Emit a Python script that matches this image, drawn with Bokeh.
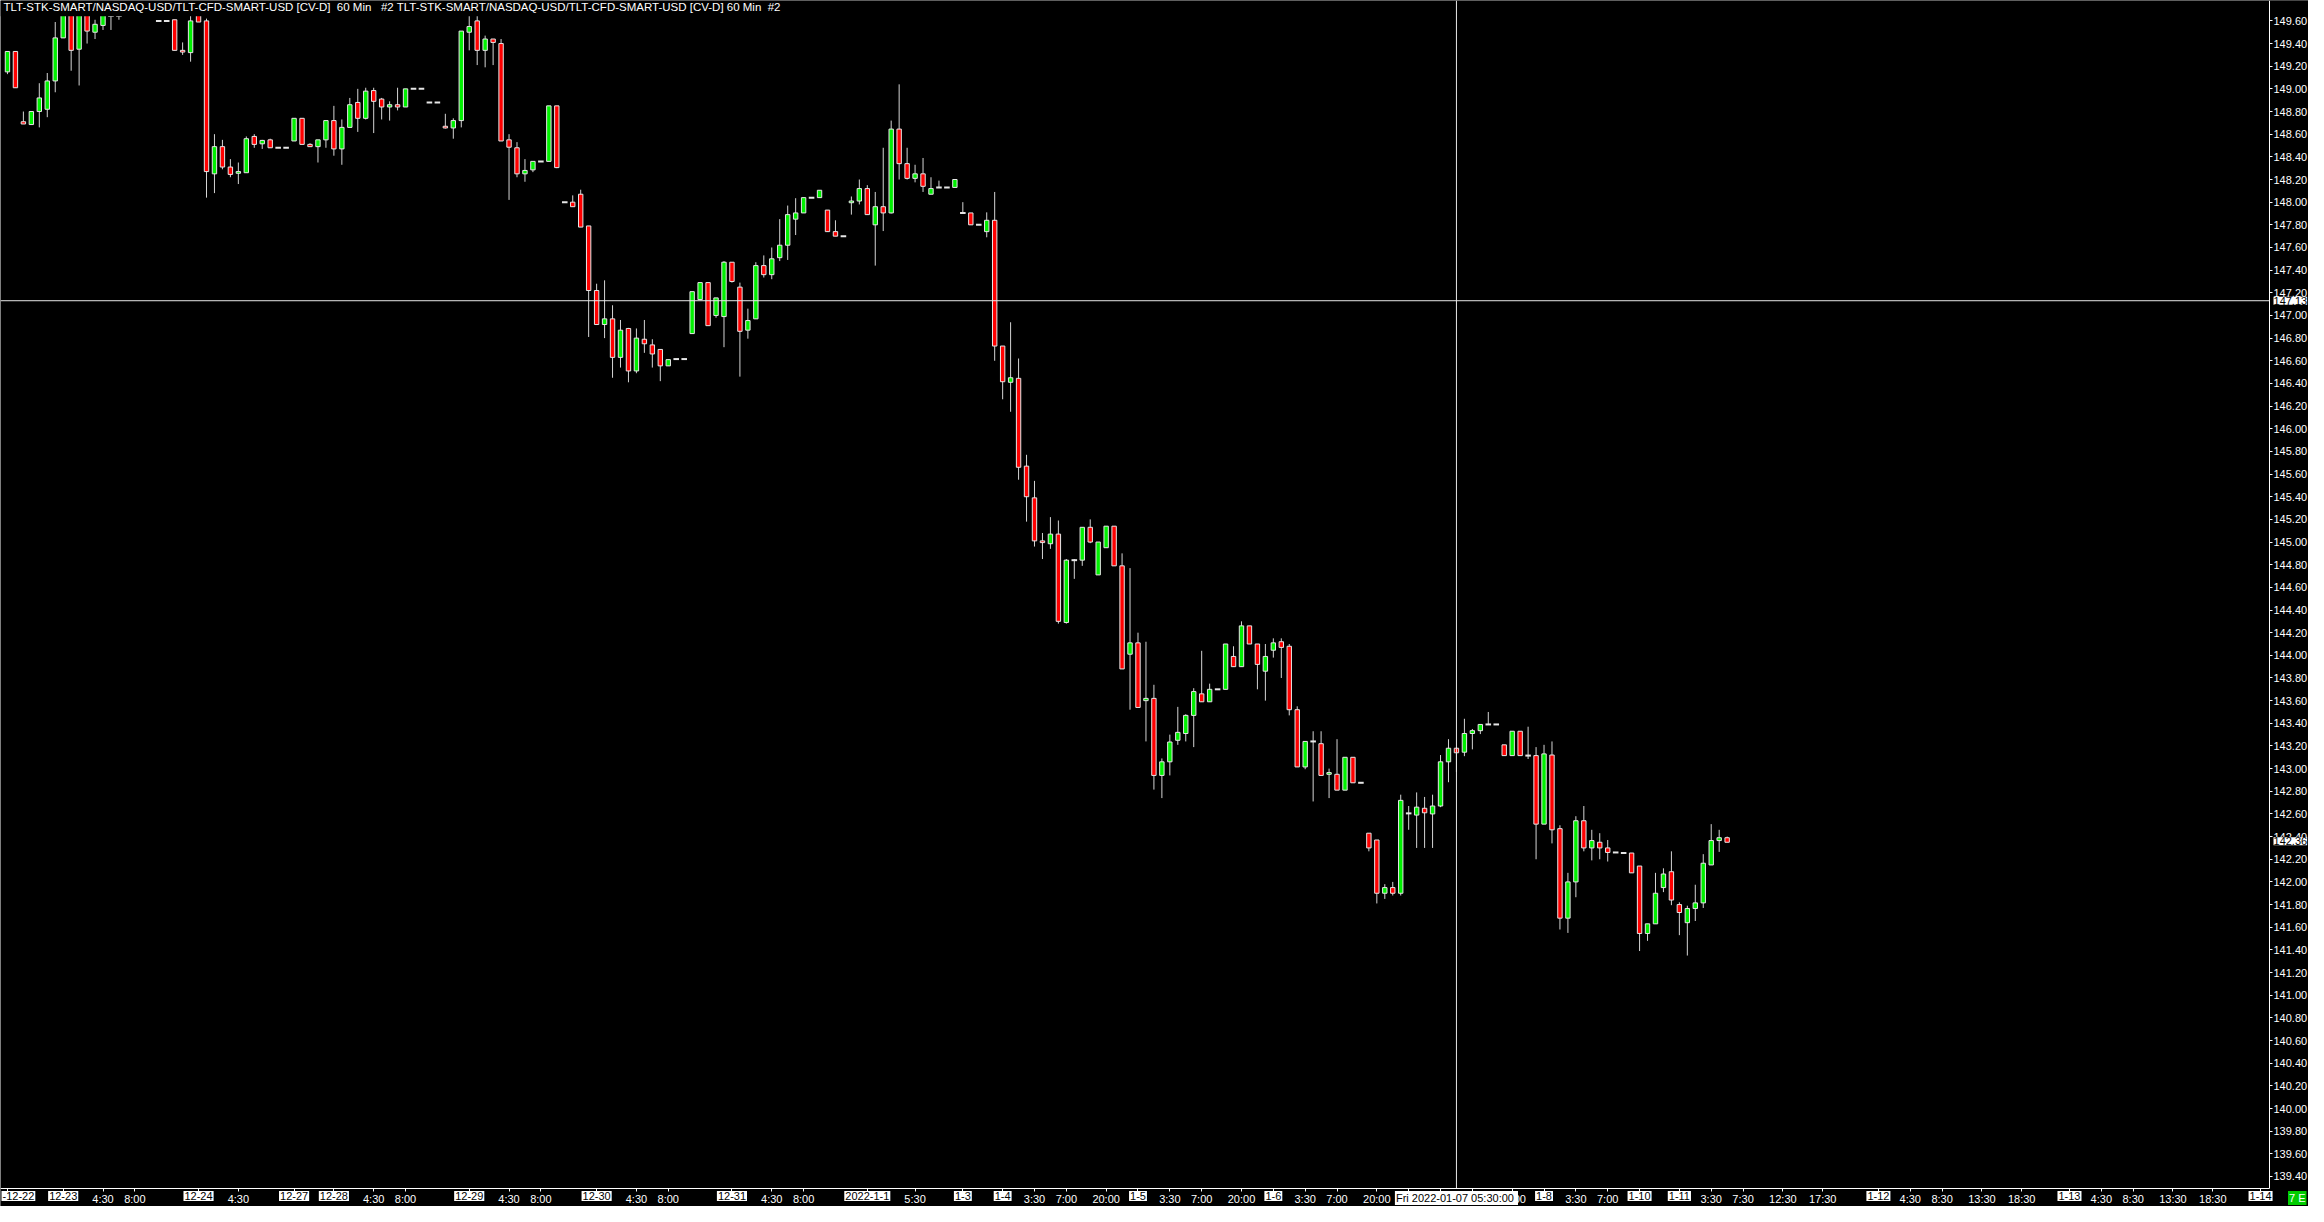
from bokeh.plotting import figure
from bokeh.models import (Range1d, FixedTicker, Span, Label, NumeralTickFormatter, ColumnDataSource,
                          LinearAxis, BoxAnnotation)
from bokeh.embed import file_html
from bokeh.resources import INLINE

# ---------------- data (60-min bars, index = bar slot) ----------------
bar_index = [0, 1, 2, 3, 4, 5, 6, 7, 8, 9, 10, 11, 12, 13, 14,
             19, 20, 21, 22, 23, 24, 25, 26, 27, 28, 29, 30, 31, 32, 33, 34, 35, 36, 37, 38, 39,
             40, 41, 42, 43, 44, 45, 46, 47, 48, 49, 50, 51, 52, 53, 54, 55, 56, 57, 58, 59,
             60, 61, 62, 63, 64, 65, 66, 67, 68, 69, 70, 71, 72, 73, 74, 75, 76, 77, 78, 79,
             80, 81, 82, 83, 84, 85, 86, 87, 88, 89, 90, 91, 92, 93, 94, 95, 96, 97, 98, 99,
             100, 101, 102, 103, 104, 105, 106, 107, 108, 109, 110, 111, 112, 113, 114, 115, 116, 117, 118, 119,
             120, 121, 122, 123, 124, 125, 126, 127, 128, 129, 130, 131, 132, 133, 134, 135, 136, 137, 138, 139,
             140, 141, 142, 143, 144, 145, 146, 147, 148, 149, 150, 151, 152, 153, 154, 155, 156, 157, 158, 159,
             160, 161, 162, 163, 164, 165, 166, 167, 168, 169, 170, 171, 172, 173, 174, 175, 176, 177, 178, 179,
             180, 181, 182, 183, 184, 185, 186, 187, 188, 189, 190, 191, 192, 193, 194, 195, 196, 197, 198, 199,
             200, 201, 202, 203, 204, 205, 206, 207, 208, 209, 210, 211, 212, 213, 214, 215, 216]

open_prices = [149.15, 149.33, 148.71, 148.685, 148.80, 148.82, 149.07, 149.45, 149.72, 149.35, 149.70, 149.50, 149.56, 149.645, 149.645,
               149.60, 149.60, 149.61, 149.34, 149.32, 149.68, 149.60, 148.25, 148.49, 148.31, 148.255, 148.26, 148.58, 148.515, 148.55, 148.48, 148.48, 148.54, 148.74, 148.51, 148.49,
               148.55, 148.72, 148.47, 148.66, 148.88, 148.74, 148.985, 148.91, 148.84, 148.86, 148.84, 149.00, 149.00, 148.88, 148.88, 148.67, 148.655, 148.72, 149.50, 149.60,
               149.34, 149.44, 149.40, 148.55, 148.48, 148.25, 148.285, 148.36, 148.36, 148.85, 148.00, 148.00, 148.07, 147.79, 147.22, 146.92, 146.97, 146.63, 146.885, 146.51,
               146.79, 146.74, 146.70, 146.555, 146.615, 146.615, 146.84, 147.14, 147.29, 147.00, 146.99, 147.47, 147.25, 146.87, 146.97, 147.44, 147.36, 147.51, 147.62, 147.85,
               147.905, 148.04, 148.04, 147.93, 147.74, 147.70, 147.995, 148.01, 148.12, 147.80, 147.96, 147.905, 148.645, 148.34, 148.21, 148.25, 148.07, 148.13, 148.13, 148.13,
               147.905, 147.905, 147.80, 147.74, 147.84, 146.73, 146.41, 146.445, 145.67, 145.39, 145.01, 144.985, 145.07, 144.29, 144.84, 144.84, 145.13, 144.71, 144.95, 145.14,
               144.79, 144.01, 144.11, 143.60, 143.62, 142.94, 143.06, 143.25, 143.31, 143.47, 143.66, 143.59, 143.70, 143.70, 143.99, 143.90, 144.26, 144.10, 143.86, 144.045,
               144.12, 144.08, 143.52, 143.015, 143.24, 143.22, 142.95, 142.95, 142.81, 143.10, 142.875, 142.43, 142.37, 141.90, 141.95, 141.90, 142.605, 142.59, 142.65, 142.60,
               142.67, 143.06, 143.18, 143.145, 143.31, 143.335, 143.39, 143.39, 143.21, 143.115, 143.33, 143.115, 143.115, 142.51, 143.12, 142.47, 141.68, 142.00, 142.54, 142.30,
               142.35, 142.30, 142.26, 142.255, 142.255, 142.14, 141.545, 141.63, 141.95, 142.09, 141.80, 141.64, 141.765, 141.815, 142.15, 142.365, 142.39]

high_prices = [149.33, 149.33, 148.80, 148.80, 149.05, 149.14, 149.59, 149.75, 149.75, 149.75, 149.72, 149.61, 149.67, 149.66, 149.66,
               149.60, 149.60, 149.61, 149.41, 149.66, 149.70, 149.62, 148.60, 148.55, 148.38, 148.35, 148.58, 148.60, 148.55, 148.56, 148.48, 148.48, 148.74, 148.74, 148.52, 148.55,
               148.72, 148.85, 148.73, 148.92, 149.00, 149.01, 149.01, 148.92, 148.89, 149.01, 149.00, 149.00, 149.00, 148.88, 148.88, 148.78, 148.74, 149.51, 149.65, 149.65,
               149.47, 149.44, 149.44, 148.60, 148.53, 148.38, 148.36, 148.36, 148.85, 148.85, 148.00, 148.06, 148.11, 147.79, 147.28, 147.31, 147.09, 146.96, 146.89, 146.885,
               146.96, 146.79, 146.70, 146.61, 146.615, 146.615, 147.21, 147.29, 147.29, 147.155, 147.48, 147.47, 147.29, 147.06, 147.47, 147.53, 147.60, 147.85, 147.97, 148.035,
               148.04, 148.04, 148.105, 147.93, 147.84, 147.70, 148.05, 148.20, 148.15, 148.09, 148.48, 148.72, 149.04, 148.48, 148.33, 148.39, 148.22, 148.19, 148.13, 148.20,
               148.00, 147.905, 147.80, 147.91, 148.09, 146.73, 146.94, 146.62, 145.77, 145.54, 145.08, 145.22, 145.19, 144.85, 144.85, 145.13, 145.20, 145.00, 145.14, 145.14,
               144.90, 144.77, 144.20, 144.12, 143.74, 143.09, 143.30, 143.545, 143.48, 143.71, 144.04, 143.75, 143.70, 144.10, 144.08, 144.30, 144.26, 144.10, 144.10, 144.15,
               144.15, 144.10, 143.55, 143.24, 143.33, 143.33, 143.00, 143.26, 143.10, 143.10, 142.875, 142.43, 142.37, 141.98, 142.00, 142.77, 142.67, 142.79, 142.75, 142.77,
               143.12, 143.26, 143.19, 143.44, 143.35, 143.39, 143.50, 143.39, 143.21, 143.33, 143.33, 143.37, 143.19, 143.21, 143.24, 142.50, 142.08, 142.58, 142.67, 142.46,
               142.43, 142.37, 142.26, 142.255, 142.255, 142.14, 141.63, 142.08, 142.12, 142.27, 141.82, 141.79, 141.975, 142.245, 142.51, 142.46, 142.40]

low_prices = [149.13, 149.01, 148.69, 148.685, 148.66, 148.75, 148.97, 149.45, 149.16, 149.03, 149.40, 149.44, 149.52, 149.52, 149.61,
              149.60, 149.60, 149.34, 149.30, 149.24, 149.59, 148.04, 148.08, 148.29, 148.22, 148.16, 148.26, 148.48, 148.47, 148.48, 148.48, 148.48, 148.54, 148.51, 148.49, 148.35,
              148.48, 148.41, 148.33, 148.66, 148.62, 148.73, 148.61, 148.73, 148.72, 148.81, 148.84, 149.00, 149.00, 148.88, 148.88, 148.65, 148.56, 148.66, 149.34, 149.21,
              149.19, 149.21, 148.54, 148.02, 148.22, 148.18, 148.265, 148.36, 148.36, 148.30, 148.00, 147.96, 147.78, 146.81, 146.92, 146.80, 146.45, 146.54, 146.41, 146.49,
              146.67, 146.54, 146.42, 146.555, 146.615, 146.615, 146.84, 147.14, 146.91, 146.98, 146.72, 147.29, 146.46, 146.795, 146.97, 147.335, 147.32, 147.48, 147.49, 147.71,
              147.905, 148.04, 148.04, 147.74, 147.70, 147.70, 147.89, 147.98, 147.89, 147.44, 147.745, 147.90, 148.20, 148.20, 148.175, 148.09, 148.07, 148.13, 148.13, 148.13,
              147.905, 147.80, 147.80, 147.69, 146.60, 146.26, 146.15, 145.55, 145.18, 144.96, 144.85, 144.94, 144.28, 144.28, 144.675, 144.79, 144.99, 144.71, 144.95, 144.79,
              143.88, 143.52, 143.54, 143.24, 142.815, 142.74, 142.94, 143.21, 143.24, 143.19, 143.59, 143.59, 143.70, 143.70, 143.90, 143.90, 144.10, 143.70, 143.60, 143.98,
              143.80, 143.47, 143.015, 142.995, 142.71, 142.94, 142.74, 142.81, 142.81, 142.875, 142.875, 142.27, 141.81, 141.85, 141.88, 141.88, 142.46, 142.30, 142.30, 142.30,
              142.66, 142.88, 142.97, 143.11, 143.17, 143.305, 143.39, 143.39, 143.115, 143.115, 143.115, 143.085, 142.20, 142.51, 142.34, 141.58, 141.55, 141.865, 142.27, 142.19,
              142.20, 142.18, 142.26, 142.255, 142.08, 141.39, 141.48, 141.63, 141.91, 141.795, 141.53, 141.35, 141.655, 141.77, 142.15, 142.265, 142.35]

close_prices = [149.33, 149.01, 148.69, 148.80, 148.92, 149.07, 149.45, 149.70, 149.34, 149.70, 149.51, 149.57, 149.65, 149.645, 149.645,
                149.60, 149.60, 149.34, 149.325, 149.60, 149.59, 148.27, 148.49, 148.31, 148.245, 148.27, 148.56, 148.51, 148.545, 148.48, 148.48, 148.48, 148.74, 148.51, 148.49, 148.55,
                148.72, 148.47, 148.66, 148.86, 148.74, 148.98, 148.89, 148.84, 148.86, 148.84, 149.00, 149.00, 149.00, 148.88, 148.88, 148.655, 148.72, 149.51, 149.55, 149.34,
                149.44, 149.41, 148.54, 148.485, 148.25, 148.28, 148.36, 148.36, 148.85, 148.305, 148.00, 147.96, 147.78, 147.22, 146.92, 146.97, 146.63, 146.87, 146.51, 146.80,
                146.75, 146.66, 146.555, 146.61, 146.615, 146.615, 147.21, 147.29, 146.91, 147.155, 147.47, 147.30, 146.86, 146.955, 147.44, 147.36, 147.50, 147.62, 147.89, 147.905,
                148.04, 148.04, 148.105, 147.74, 147.70, 147.70, 148.01, 148.12, 147.89, 147.96, 147.905, 148.645, 148.34, 148.21, 148.25, 148.14, 148.12, 148.13, 148.13, 148.20,
                147.905, 147.80, 147.80, 147.84, 146.73, 146.415, 146.45, 145.66, 145.40, 145.01, 144.995, 145.07, 144.30, 144.84, 144.84, 145.13, 145.00, 145.00, 145.14, 144.79,
                143.88, 144.11, 143.54, 143.62, 142.94, 143.06, 143.235, 143.32, 143.47, 143.68, 143.59, 143.70, 143.70, 144.10, 143.90, 144.26, 144.10, 143.92, 143.99, 144.11,
                144.07, 143.52, 143.015, 143.24, 143.24, 142.94, 142.965, 142.81, 143.10, 142.875, 142.875, 142.30, 141.90, 141.95, 141.90, 142.72, 142.605, 142.66, 142.61, 142.67,
                143.06, 143.18, 143.14, 143.31, 143.335, 143.39, 143.39, 143.39, 143.115, 143.33, 143.115, 143.115, 142.51, 143.13, 142.46, 141.68, 142.00, 142.54, 142.30, 142.365,
                142.30, 142.26, 142.26, 142.255, 142.08, 141.545, 141.63, 141.90, 142.07, 141.84, 141.73, 141.765, 141.815, 142.165, 142.365, 142.39, 142.35]

# time axis (bar slot -> label); date labels are highlighted
time_tick_pos = [12, 16, 29, 46, 50, 63, 67, 79, 83, 96, 100, 114, 129, 133, 138, 146, 150, 155,
                 163, 167, 172, 180, 184, 189, 197, 201, 214, 218, 223, 228, 239, 243, 248, 253,
                 263, 267, 272, 277]
time_tick_labels = ["4:30", "8:00", "4:30", "4:30", "8:00", "4:30", "8:00", "4:30", "8:00", "4:30", "8:00",
                    "5:30", "3:30", "7:00", "20:00", "3:30", "7:00", "20:00", "3:30", "7:00", "20:00",
                    "3:30", "7:00", "20:00", "3:30", "7:00", "3:30", "7:30", "12:30", "17:30",
                    "4:30", "8:30", "13:30", "18:30", "4:30", "8:30", "13:30", "18:30"]
date_tick_pos = [0, 7, 24, 36, 41, 58, 74, 91, 108, 120, 125, 142, 159, 176, 193, 205, 210, 235, 259, 283]
date_tick_labels = ["-12-22", "12-23", "12-24", "12-27", "12-28", "12-29", "12-30", "12-31", "2022-1-1",
                    "1-3", "1-4", "1-5", "1-6", "1-7", "1-8", "1-10", "1-11", "1-12", "1-13", "1-14"]

price_ticks = [round(139.4 + 0.2 * k, 2) for k in range(52)]

crosshair_bar = 182
crosshair_price = 147.13
crosshair_time = "Fri 2022-01-07  05:30:00"
last_price = 142.36
status_text = "7 E"

title_text = ("TLT-STK-SMART/NASDAQ-USD/TLT-CFD-SMART-USD [CV-D]\u00a0\u00a060 Min\u00a0\u00a0\u00a0"
              "#2 TLT-STK-SMART/NASDAQ-USD/TLT-CFD-SMART-USD [CV-D] 60 Min\u00a0\u00a0#2")

# ---------------- layout constants ----------------
FONT = "Liberation Sans"
W, H = 2308, 1206
X0, X1 = -0.875, 289.022        # whole canvas width in bar slots
Y0, Y1 = 139.135, 149.78         # whole canvas height in price
PX = W / (X1 - X0)               # pixels per bar slot
PY = H / (Y1 - Y0)               # pixels per price unit
AXIS_X = 284.125                 # price-axis line (bar slots)
AXIS_Y = 139.292                 # time-axis line (price)
TOP_BAND = 149.641               # bottom of title band
LAB_Y = Y1 - 1190.5 / PY         # top of highlighted time labels

p = figure(width=W, height=H, output_backend="svg", toolbar_location=None,
           x_range=Range1d(X0, X1), y_range=Range1d(Y0, Y1),
           x_axis_location=None, y_axis_location=None,
           background_fill_color="black", border_fill_color="black",
           min_border_left=0, min_border_right=0, min_border_top=0, min_border_bottom=0,
           outline_line_color=None)
p.grid.visible = False

up_col, dn_col = "#00f000", "#ff0000"
rows = dict(x=[], top=[], bottom=[], hi=[], lo=[], color=[])
flat = dict(x=[], y=[])
for i, o, h, l, c in zip(bar_index, open_prices, high_prices, low_prices, close_prices):
    rows["x"].append(i); rows["hi"].append(h); rows["lo"].append(l)
    rows["top"].append(max(o, c)); rows["bottom"].append(min(o, c))
    rows["color"].append(up_col if c > o else dn_col)
    if abs(c - o) < 1e-9:
        flat["x"].append(i); flat["y"].append(c)

src = ColumnDataSource(rows)
keep = [t - b > 1e-9 for t, b in zip(rows["top"], rows["bottom"])]
body_src = ColumnDataSource({k: [v for v, ok in zip(rows[k], keep) if ok] for k in rows})
p.segment(x0="x", y0="hi", x1="x", y1="lo", source=src, line_color="#d4d4d4", line_width=1)
p.vbar(x="x", width=0.55, top="top", bottom="bottom", source=body_src,
       fill_color="color", line_color="#e6e6e6", line_width=1)
p.rect(x="x", y="y", width=0.7, height=2, height_units="screen", source=ColumnDataSource(flat),
       fill_color="#e6e6e6", line_color=None)

# title band hides what is above the plotting area
p.add_layout(BoxAnnotation(bottom=TOP_BAND, fill_color="black", fill_alpha=1, line_color=None, level="glyph"))
# crosshair
p.add_layout(Span(location=crosshair_bar, dimension="height", line_color="#e8e8e8", line_width=1, level="glyph"))
p.add_layout(Span(location=crosshair_price, dimension="width", line_color="#e8e8e8", line_width=1, level="glyph"))
# axis strips
p.add_layout(BoxAnnotation(top=AXIS_Y, fill_color="black", fill_alpha=1, line_color=None, level="glyph"))
p.add_layout(BoxAnnotation(left=AXIS_X, fill_color="black", fill_alpha=1, line_color=None, level="glyph"))

# price axis (right)
ya = LinearAxis(fixed_location=AXIS_X, bounds=(AXIS_Y, Y1))
ya.ticker = FixedTicker(ticks=price_ticks)
ya.formatter = NumeralTickFormatter(format="0.00")
ya.axis_line_color = "white"
ya.major_tick_line_color = "white"
ya.major_tick_out = 3
ya.major_tick_in = 0
ya.minor_tick_line_color = None
ya.major_label_text_color = "white"
ya.major_label_text_font = FONT
ya.major_label_text_font_size = "11px"
ya.major_label_standoff = 1
p.add_layout(ya, "right")

# time axis (bottom)
xa = LinearAxis(fixed_location=AXIS_Y, bounds=(X0, AXIS_X))
xa.ticker = FixedTicker(ticks=sorted(time_tick_pos + date_tick_pos))
overrides = {pos: lab for pos, lab in zip(time_tick_pos, time_tick_labels)}
overrides.update({pos: "" for pos in date_tick_pos})
xa.major_label_overrides = overrides
xa.axis_line_color = "white"
xa.major_tick_line_color = "white"
xa.major_tick_out = 3
xa.major_tick_in = 0
xa.minor_tick_line_color = None
xa.major_label_text_color = "white"
xa.major_label_text_font = FONT
xa.major_label_text_font_size = "11px"
xa.major_label_standoff = 1
p.add_layout(xa, "below")


def tag(x, y, text, align="center", baseline="top", bg="white", fg="black", size="11px",
        x_offset=0, pad=1):
    kw = dict(x=x, y=y, text=text, text_align=align, text_baseline=baseline, text_color=fg,
              text_font=FONT, text_font_size=size, background_fill_color=bg, level="overlay",
              x_offset=x_offset)
    try:
        lab = Label(padding=pad, **kw)
    except Exception:
        lab = Label(**kw)
    p.add_layout(lab)


for pos, lab in zip(date_tick_pos, date_tick_labels):
    if pos == date_tick_pos[0]:
        tag(X0, LAB_Y, lab, align="left", x_offset=1)      # first label is cut at the left edge
    else:
        tag(pos, LAB_Y, lab)
tag(crosshair_bar, LAB_Y, crosshair_time)
tag(AXIS_X + 4 / PX, crosshair_price, f"{crosshair_price:.2f}", align="left", baseline="middle", pad=0)
tag(AXIS_X + 4 / PX, last_price, f"{last_price:.2f}", align="left", baseline="middle", pad=0)
tag(X1, LAB_Y, status_text, align="right", x_offset=-2, bg="#00cc00", fg="white")
# chart title (top-left, on the black band)
p.add_layout(Label(x=X0, y=Y1, x_offset=3, text=title_text, text_align="left", text_baseline="top",
                   text_color="white", text_font=FONT, text_font_size="11.5px", level="overlay"))

open("out.html", "w").write(file_html(p, INLINE))
